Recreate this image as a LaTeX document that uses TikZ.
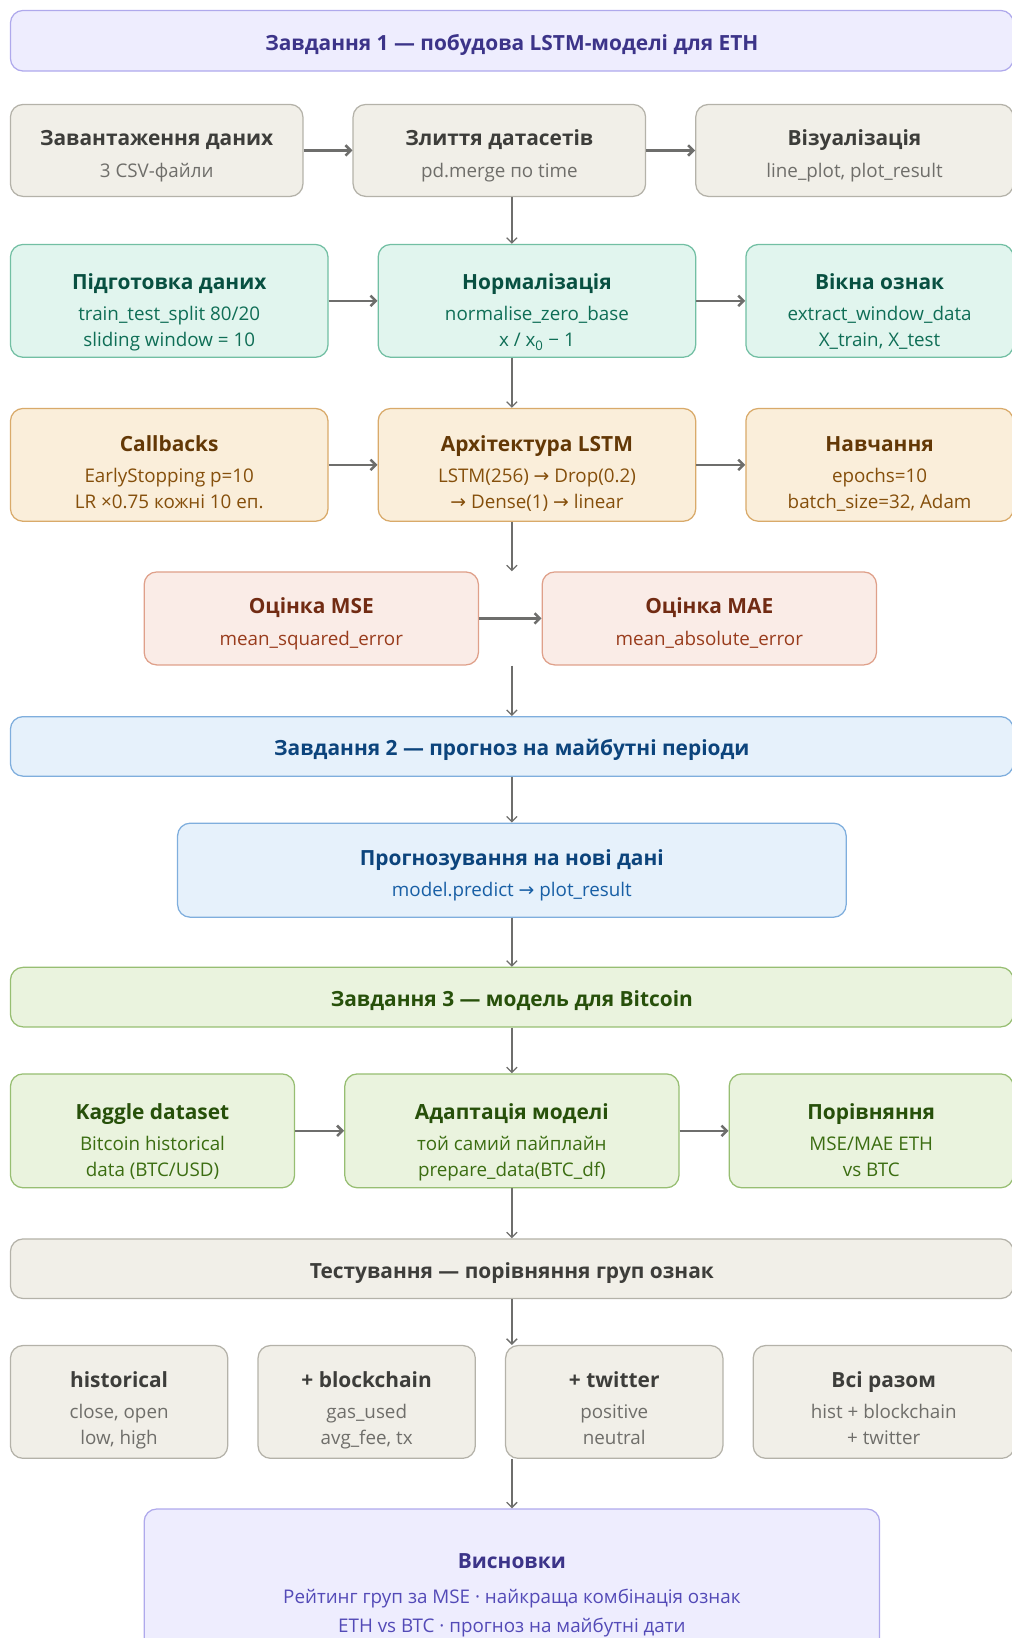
\documentclass[tikz,border=0pt]{standalone}
\usepackage{fontspec}
\setmainfont{Open Sans}
\newfontfamily\symfont{DejaVu Sans}
\usepackage{xcolor}
\usepackage{tikz}
\usetikzlibrary{arrows.meta,positioning}

\definecolor{purF}{HTML}{EEEDFE}\definecolor{purD}{HTML}{AFA9EC}\definecolor{purT}{HTML}{3C3489}\definecolor{purS}{HTML}{534AB7}
\definecolor{gryF}{HTML}{F1EFE8}\definecolor{gryD}{HTML}{B4B2A9}\definecolor{gryT}{HTML}{3D3D3A}\definecolor{gryS}{HTML}{6F6E6A}
\definecolor{tealF}{HTML}{E1F5EE}\definecolor{tealD}{HTML}{72BFA3}\definecolor{tealT}{HTML}{085041}\definecolor{tealS}{HTML}{0F6E56}
\definecolor{ambF}{HTML}{FAEEDA}\definecolor{ambD}{HTML}{D9AA6A}\definecolor{ambT}{HTML}{633806}\definecolor{ambS}{HTML}{854F0B}
\definecolor{corF}{HTML}{FAECE7}\definecolor{corD}{HTML}{DFA08A}\definecolor{corT}{HTML}{712B13}\definecolor{corS}{HTML}{993C1D}
\definecolor{bluF}{HTML}{E6F1FB}\definecolor{bluD}{HTML}{7FAEDD}\definecolor{bluT}{HTML}{0C447C}\definecolor{bluS}{HTML}{185FA5}
\definecolor{grnF}{HTML}{EAF3DE}\definecolor{grnD}{HTML}{97BE72}\definecolor{grnT}{HTML}{27500A}\definecolor{grnS}{HTML}{3B6D11}
\definecolor{flowc}{HTML}{6E6E6C}

\def\toppad{27pt}
\def\subcol{black}
\newcommand{\ttl}[1]{{\fontsize{20}{24}\selectfont\bfseries\rule[-6pt]{0pt}{\dimexpr\toppad+6pt\relax}#1}}
\newcommand{\sub}[1]{{\color{\subcol}\rule[-6pt]{0pt}{6pt}#1}}
\newcommand{\ar}{{\symfont →}}

\tikzset{
  pad/.store in=\toppad,
  subc/.store in=\subcol,
  box/.style={draw, rounded corners=12pt, line width=1.2pt, align=center, inner sep=0pt,
    font=\fontsize{18}{25}\selectfont, pad=27pt},
  three/.style={pad=35pt},
  bar/.style={minimum width=960pt, minimum height=57pt, pad=24pt},
  purbox/.style={box, fill=purF, draw=purD, text=purT, subc=purS},
  grybox/.style={box, fill=gryF, draw=gryD, text=gryT, subc=gryS},
  tealbox/.style={box, fill=tealF, draw=tealD, text=tealT, subc=tealS},
  ambbox/.style={box, fill=ambF, draw=ambD, text=ambT, subc=ambS},
  corbox/.style={box, fill=corF, draw=corD, text=corT, subc=corS},
  blubox/.style={box, fill=bluF, draw=bluD, text=bluT, subc=bluS},
  grnbox/.style={box, fill=grnF, draw=grnD, text=grnT, subc=grnS},
  flow/.style={-{Straight Barb[length=5pt,width=10pt]}, draw=flowc, line width=1.2pt},
  hflow/.style={flow, line width=2.4pt},
}

\begin{document}
\begin{tikzpicture}[x=1pt,y=-1pt]
  \useasboundingbox (0,0) rectangle (968,1568);

  % task 1
  \node[purbox,bar,minimum height=58pt] (t1) at (490,39) {\ttl{Завдання 1 — побудова LSTM-моделі для ETH}};

  \node[grybox,minimum width=280pt,minimum height=88pt] (load) at (150,144) {\ttl{Завантаження даних}\\[5pt]\sub{3 CSV-файли}};
  \node[grybox,minimum width=280pt,minimum height=88pt] (merge) at (478,144) {\ttl{Злиття датасетів}\\[5pt]\sub{pd.merge по time}};
  \node[grybox,minimum width=304pt,minimum height=88pt] (vis) at (818,144) {\ttl{Візуалізація}\\[5pt]\sub{line\_plot, plot\_result}};

  \node[tealbox,three,pad=39pt,minimum width=304pt,minimum height=108pt] (prep) at (162,288) {\ttl{Підготовка даних}\\[5pt]\sub{train\_test\_split 80/20}\\\sub{sliding window = 10}};
  \node[tealbox,three,pad=39pt,minimum width=304pt,minimum height=108pt] (norm) at (514,288) {\ttl{Нормалізація}\\[5pt]\sub{normalise\_zero\_base}\\\sub{x / x\textsubscript{0} − 1}};
  \node[tealbox,three,pad=39pt,minimum width=256pt,minimum height=108pt] (win) at (842,288) {\ttl{Вікна ознак}\\[5pt]\sub{extract\_window\_data}\\\sub{X\_train, X\_test}};

  \node[ambbox,three,minimum width=304pt,minimum height=108pt] (cb) at (162,445) {\ttl{Callbacks}\\[5pt]\sub{EarlyStopping p=10}\\\sub{LR ×0.75 кожні 10 еп.}};
  \node[ambbox,three,minimum width=304pt,minimum height=108pt] (arch) at (514,445) {\ttl{Архітектура LSTM}\\[5pt]\sub{LSTM(256) \ar{} Drop(0.2)}\\\sub{\ar{} Dense(1) \ar{} linear}};
  \node[ambbox,three,minimum width=256pt,minimum height=108pt] (fit) at (842,445) {\ttl{Навчання}\\[5pt]\sub{epochs=10}\\\sub{batch\_size=32, Adam}};

  \node[corbox,minimum width=320pt,minimum height=89pt] (mse) at (298,592) {\ttl{Оцінка MSE}\\[5pt]\sub{mean\_squared\_error}};
  \node[corbox,minimum width=320pt,minimum height=89pt] (mae) at (679,592) {\ttl{Оцінка MAE}\\[5pt]\sub{mean\_absolute\_error}};

  \draw[hflow] (load) -- (merge);
  \draw[hflow] (merge) -- (vis);
  \draw[flow] (merge.south -| t1) -- (norm.north -| t1);
  \draw[hflow] (prep) -- (norm);
  \draw[hflow] (norm) -- (win);
  \draw[flow] (norm.south -| t1) -- (arch.north -| t1);
  \draw[hflow] (cb) -- (arch);
  \draw[hflow] (arch) -- (fit);
  \draw[flow] (arch.south -| t1) -- (mse.north -| t1);
  \draw[hflow] (mse) -- (mae);

  % task 2
  \node[blubox,bar] (t2) at (490,714.5) {\ttl{Завдання 2 — прогноз на майбутні періоди}};
  \node[blubox,minimum width=640pt,minimum height=90pt] (pred) at (490,833) {\ttl{Прогнозування на нові дані}\\[5pt]\sub{model.predict \ar{} plot\_result}};
  \draw[flow] (mse.south -| t1) -- (t2);
  \draw[flow] (t2) -- (pred);

  % task 3
  \node[grnbox,bar] (t3) at (490,954.5) {\ttl{Завдання 3 — модель для Bitcoin}};
  \node[grnbox,three,pad=39pt,minimum width=272pt,minimum height=109pt] (kag) at (146,1082.5) {\ttl{Kaggle dataset}\\[5pt]\sub{Bitcoin historical}\\\sub{data (BTC/USD)}};
  \node[grnbox,three,pad=39pt,minimum width=320pt,minimum height=109pt] (adapt) at (490,1082.5) {\ttl{Адаптація моделі}\\[5pt]\sub{той самий пайплайн}\\\sub{prepare\_data(BTC\_df)}};
  \node[grnbox,three,pad=39pt,minimum width=272pt,minimum height=109pt] (cmp) at (834,1082.5) {\ttl{Порівняння}\\[5pt]\sub{MSE/MAE ETH}\\\sub{vs BTC}};
  \draw[flow] (pred) -- (t3);
  \draw[flow] (t3) -- (adapt);
  \draw[hflow] (kag) -- (adapt);
  \draw[hflow] (adapt) -- (cmp);

  % testing
  \node[grybox,bar] (test) at (490,1214.5) {\ttl{Тестування — порівняння груп ознак}};
  \node[grybox,three,pad=33pt,minimum width=208pt,minimum height=108pt] (hist) at (114,1342) {\ttl{historical}\\[5pt]\sub{close, open}\\\sub{low, high}};
  \node[grybox,three,pad=33pt,minimum width=208pt,minimum height=108pt] (blk) at (351,1342) {\ttl{+ blockchain}\\[5pt]\sub{gas\_used}\\\sub{avg\_fee, tx}};
  \node[grybox,three,pad=33pt,minimum width=208pt,minimum height=108pt] (twt) at (588,1342) {\ttl{+ twitter}\\[5pt]\sub{positive}\\\sub{neutral}};
  \node[grybox,three,pad=33pt,minimum width=250pt,minimum height=108pt] (all) at (846,1342) {\ttl{Всі разом}\\[5pt]\sub{hist + blockchain}\\\sub{+ twitter}};
  \draw[flow] (adapt) -- (test);
  \draw[flow] (test) -- (twt.north -| test);

  % conclusions
  \node[purbox,pad=26pt,minimum width=704pt,minimum height=155pt] (concl) at (490,1522) {\ttl{Висновки}\\[8pt]\sub{Рейтинг груп за MSE · найкраща комбінація ознак}\\[3pt]\sub{ETH vs BTC · прогноз на майбутні дати}};
  \draw[flow] (twt.south -| test) -- (concl);
\end{tikzpicture}
\end{document}
